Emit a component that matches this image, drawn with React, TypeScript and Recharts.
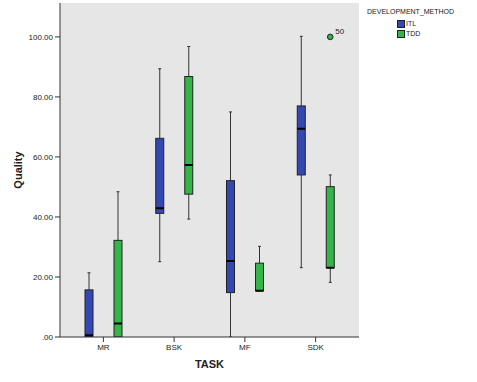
import React from 'react';
import { ComposedChart, Bar, XAxis, YAxis, CartesianGrid } from 'recharts';

const categories = ['MR', 'BSK', 'MF', 'SDK'];
const yTicks = [0, 20, 40, 60, 80, 100];

const itlMin = [0, 25.1, 0, 23.1];
const itlQ1 = [0, 41.2, 14.8, 54.0];
const itlMed = [0.6, 42.9, 25.3, 69.4];
const itlQ3 = [15.7, 66.2, 52.1, 77.0];
const itlMax = [21.4, 89.4, 75.0, 100.2];

const tddMin = [0, 39.3, 15.4, 18.2];
const tddQ1 = [0, 47.6, 15.4, 23.1];
const tddMed = [4.5, 57.3, 15.4, 23.1];
const tddQ3 = [32.2, 86.8, 24.6, 50.1];
const tddMax = [48.4, 96.8, 30.2, 54.0];

const tddOutliers: { task: string; value: number; label: string }[] = [
  { task: 'SDK', value: 100, label: '50' },
];

const series = [
  { key: 'itl', name: 'ITL', color: '#3448b4' },
  { key: 'tdd', name: 'TDD', color: '#35b44a' },
];

const data = categories.map((c, i) => ({
  task: c,
  itl: { min: itlMin[i], q1: itlQ1[i], med: itlMed[i], q3: itlQ3[i], max: itlMax[i], out: [] as { value: number; label: string }[] },
  tdd: {
    min: tddMin[i], q1: tddQ1[i], med: tddMed[i], q3: tddQ3[i], max: tddMax[i],
    out: tddOutliers.filter((o) => o.task === c).map((o) => ({ value: o.value, label: o.label })),
  },
}));

const FONT = 'Arial, "Liberation Sans", sans-serif';

const makeBox = (key: 'itl' | 'tdd', color: string) => (props: any) => {
  const { x, y, width, height, payload } = props;
  const s = payload[key];
  const ppu = height / (s.q3 - s.q1);
  const pix = (v: number) => y + height - (v - s.q1) * ppu;
  const cx = x + width / 2;
  const cap = 1.5;
  return (
    <g>
      <line x1={cx} x2={cx} y1={pix(s.max)} y2={pix(s.q3)} stroke="#333" strokeWidth={1} />
      <line x1={cx} x2={cx} y1={pix(s.q1)} y2={pix(s.min)} stroke="#333" strokeWidth={1} />
      <line x1={cx - cap} x2={cx + cap} y1={pix(s.max)} y2={pix(s.max)} stroke="#333" strokeWidth={1} />
      <line x1={cx - cap} x2={cx + cap} y1={pix(s.min)} y2={pix(s.min)} stroke="#333" strokeWidth={1} />
      <rect x={x} y={y} width={width} height={height} fill={color} stroke="#222" strokeWidth={1} />
      <line x1={x} x2={x + width} y1={pix(s.med)} y2={pix(s.med)} stroke="#000" strokeWidth={2} />
      {s.out.map((o: any, i: number) => (
        <g key={i}>
          <circle cx={cx} cy={pix(o.value)} r={2.8} fill={color} stroke="#222" strokeWidth={1} />
          <text x={cx + 5} y={pix(o.value) - 3} fontSize={8} fontFamily={FONT} fill="#222">{o.label}</text>
        </g>
      ))}
    </g>
  );
};

const LegendBox = () => (
  <div style={{ position: 'absolute', left: 367, top: 7, fontFamily: FONT, fontSize: 7, color: '#222', lineHeight: '10px' }}>
    <div style={{ marginBottom: 2 }}>DEVELOPMENT_METHOD</div>
    {series.map((s) => (
      <div key={s.key} style={{ display: 'flex', alignItems: 'center', marginLeft: 30, height: 10 }}>
        <div style={{ width: 6, height: 6, background: s.color, border: '1px solid #222', marginRight: 1 }} />
        <span>{s.name}</span>
      </div>
    ))}
  </div>
);

export default function App() {
  return (
    <div style={{ position: 'absolute', left: 0, top: 0, width: 477, height: 382, background: '#fff' }}>
      <ComposedChart
        width={477}
        height={382}
        data={data}
        margin={{ top: 3, right: 118, left: 0, bottom: 0 }}
        barGap={21}
        barSize={8}
      >
        <CartesianGrid horizontal={false} vertical={false} fill="#e6e6e6" />
        <XAxis
          dataKey="task"
          padding={{ left: 8, right: 8 }}
          height={45}
          tickSize={5}
          tickLine={{ stroke: '#333' }}
          axisLine={{ stroke: '#333' }}
          tick={{ fontSize: 8, fontFamily: FONT, fill: '#222' }}
          label={{ value: 'TASK', position: 'insideBottom', offset: 14, fontSize: 11, fontWeight: 'bold', fontFamily: FONT, fill: '#222' }}
        />
        <XAxis xAxisId="top" orientation="top" dataKey="task" height={0} tick={false} tickLine={false} axisLine={{ stroke: '#888' }} />
        <YAxis
          domain={[0, 111.3]}
          ticks={yTicks}
          allowDataOverflow
          width={60}
          tickSize={5}
          tickLine={{ stroke: '#333' }}
          axisLine={{ stroke: '#333' }}
          tickFormatter={(v: number) => (v === 0 ? '.00' : v.toFixed(2))}
          tick={{ fontSize: 8, fontFamily: FONT, fill: '#222' }}
          label={{ value: 'Quality', angle: -90, position: 'center', dx: -12, fontSize: 11, fontWeight: 'bold', fontFamily: FONT, fill: '#222' }}
        />
        <YAxis yAxisId="right" orientation="right" width={0} tick={false} tickLine={false} axisLine={{ stroke: '#333' }} />
        <Bar dataKey={(d: any) => [d.itl.q1, d.itl.q3]} name="ITL" fill={series[0].color} shape={makeBox('itl', series[0].color)} isAnimationActive={false} />
        <Bar dataKey={(d: any) => [d.tdd.q1, d.tdd.q3]} name="TDD" fill={series[1].color} shape={makeBox('tdd', series[1].color)} isAnimationActive={false} />
      </ComposedChart>
      <LegendBox />
    </div>
  );
}
